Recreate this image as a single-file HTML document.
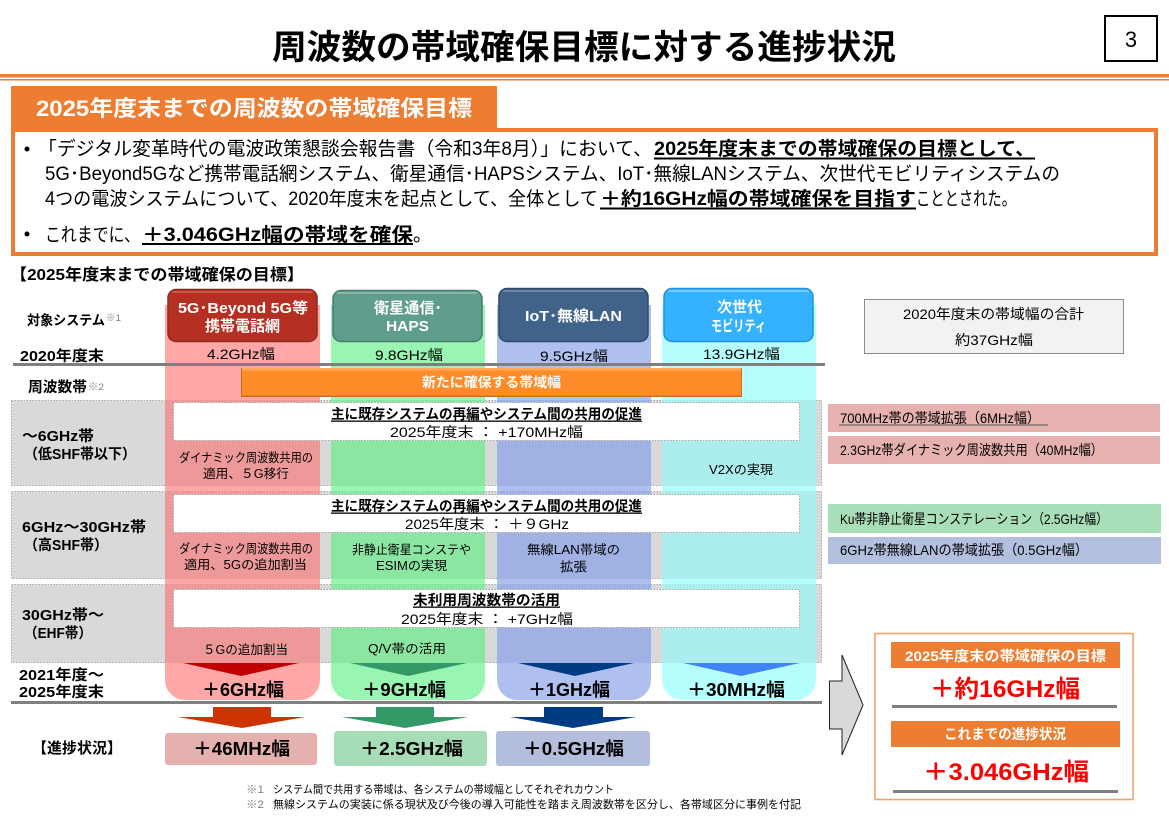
<!DOCTYPE html>
<html lang="ja"><head><meta charset="utf-8"><title>周波数の帯域確保目標に対する進捗状況</title>
<style>
html,body{margin:0;padding:0;background:#fff;width:1169px;height:827px;overflow:hidden}
svg{display:block}
text{font-family:"Liberation Sans","Noto Sans CJK JP",sans-serif;fill:#000;white-space:pre}
.b{font-weight:700}
.w{fill:#fff;font-weight:700}
.r{fill:#f00;font-weight:700}
</style></head><body>
<svg xmlns="http://www.w3.org/2000/svg" width="1169" height="827" viewBox="0 0 1169 827">
<rect width="1169" height="827" fill="#fff"/>
<!-- title -->
<text class="b" x="272" y="59" font-size="34" textLength="624" lengthAdjust="spacingAndGlyphs">周波数の帯域確保目標に対する進捗状況</text>
<rect x="1105" y="16" width="52" height="45" fill="#fff" stroke="#000" stroke-width="2"/>
<text x="1131" y="47" font-size="22" text-anchor="middle">3</text>
<rect x="0" y="74" width="1169" height="3.5" fill="#ED7D31"/>
<rect x="0" y="79" width="1169" height="1.5" fill="#ED7D31"/>
<!-- header -->
<rect x="11" y="86" width="486" height="44" fill="#ED7D31"/>
<rect x="13" y="130" width="1143" height="124" fill="#fff" stroke="#ED7D31" stroke-width="4"/>
<text class="w" x="36" y="116" font-size="22" textLength="436" lengthAdjust="spacingAndGlyphs">2025年度末までの周波数の帯域確保目標</text>
<circle cx="27" cy="149" r="2.500" fill="#000"/>
<circle cx="27" cy="234" r="2.500" fill="#000"/>
<text x="38" y="155" font-size="19" textLength="614" lengthAdjust="spacingAndGlyphs">「デジタル変革時代の電波政策懇談会報告書（令和3年8月）」において、</text>
<text class="b" x="654" y="155" font-size="19" textLength="381" lengthAdjust="spacingAndGlyphs">2025年度末までの帯域確保の目標として、</text>
<rect x="654" y="157.500" width="381" height="2" fill="#000"/>
<text x="45" y="180" font-size="19" textLength="1015" lengthAdjust="spacingAndGlyphs">5G･Beyond5Gなど携帯電話網システム、衛星通信･HAPSシステム、IoT･無線LANシステム、次世代モビリティシステムの</text>
<text x="45" y="205" font-size="19" textLength="553" lengthAdjust="spacingAndGlyphs">4つの電波システムについて、2020年度末を起点として、全体として</text>
<text class="b" x="600" y="205" font-size="19" textLength="316" lengthAdjust="spacingAndGlyphs">＋約16GHz幅の帯域確保を目指す</text>
<rect x="600" y="207.500" width="316" height="2" fill="#000"/>
<text x="916" y="205" font-size="19" textLength="100" lengthAdjust="spacingAndGlyphs">こととされた。</text>
<text x="45" y="241" font-size="19" textLength="95" lengthAdjust="spacingAndGlyphs">これまでに、</text>
<text class="b" x="142" y="241" font-size="19" textLength="271" lengthAdjust="spacingAndGlyphs">＋3.046GHz幅の帯域を確保</text>
<rect x="142" y="243" width="271" height="2" fill="#000"/>
<text x="413" y="241" font-size="19">。</text>
<text class="b" x="10" y="280" font-size="16" textLength="294" lengthAdjust="spacingAndGlyphs">【2025年度末までの帯域確保の目標】</text>

<!-- gray bands -->
<g fill="#D9D9D9" stroke="#A6A6A6" stroke-dasharray="1.500 1.500">
<rect x="11.500" y="400.500" width="810" height="85"/>
<rect x="11.500" y="491.500" width="810" height="87"/>
<rect x="11.500" y="584.500" width="810" height="78"/>
</g>
<!-- columns -->
<path d="M165 305H320V680a20 20 0 0 1-20 20H185a20 20 0 0 1-20-20Z" fill="#FFA6A6"/>
<path d="M331 305H485V680a20 20 0 0 1-20 20H351a20 20 0 0 1-20-20Z" fill="#99F5B2"/>
<path d="M497 305H651V680a20 20 0 0 1-20 20H517a20 20 0 0 1-20-20Z" fill="#AFBFF0"/>
<path d="M662 305H816V680a20 20 0 0 1-20 20H682a20 20 0 0 1-20-20Z" fill="#B7FFFF"/>
<g fill="#EE9999"><rect x="165" y="400" width="155" height="86"/><rect x="165" y="491" width="155" height="88"/><rect x="165" y="584" width="155" height="79"/></g>
<g fill="#8BE6A2"><rect x="331" y="400" width="154" height="86"/><rect x="331" y="491" width="154" height="88"/><rect x="331" y="584" width="154" height="79"/></g>
<g fill="#A0B1E3"><rect x="497" y="400" width="154" height="86"/><rect x="497" y="491" width="154" height="88"/><rect x="497" y="584" width="154" height="79"/></g>
<g fill="#ACEEEE"><rect x="662" y="400" width="154" height="86"/><rect x="662" y="491" width="154" height="88"/><rect x="662" y="584" width="154" height="79"/></g>

<!-- system buttons -->
<rect x="168" y="289.500" width="149" height="52" rx="8" fill="#B53022" stroke="#8E2A20" stroke-width="1.500"/>
<rect x="172" y="291" width="141" height="2" rx="1" fill="#C9584C"/>
<rect x="333" y="290.500" width="149" height="51" rx="8" fill="#5F9E8C" stroke="#487A6C" stroke-width="1.500"/>
<rect x="337" y="292" width="141" height="2" rx="1" fill="#86B6A8"/>
<rect x="499" y="288.500" width="149" height="53" rx="8" fill="#416389" stroke="#2F4A69" stroke-width="1.500"/>
<rect x="503" y="290" width="141" height="2" rx="1" fill="#6B88A8"/>
<rect x="664" y="288.500" width="149" height="53" rx="8" fill="#35B2FF" stroke="#2192D8" stroke-width="1.500"/>
<rect x="668" y="290" width="141" height="2" rx="1" fill="#73CBFF"/>
<text class="w" x="178" y="313" font-size="15" textLength="130" lengthAdjust="spacingAndGlyphs">5G･Beyond 5G等</text>
<text class="w" x="205" y="331" font-size="15" textLength="75" lengthAdjust="spacingAndGlyphs">携帯電話網</text>
<text class="w" x="374" y="313" font-size="15" textLength="68" lengthAdjust="spacingAndGlyphs">衛星通信･</text>
<text class="w" x="386" y="331" font-size="15" textLength="43" lengthAdjust="spacingAndGlyphs">HAPS</text>
<text class="w" x="525" y="321" font-size="15" textLength="97" lengthAdjust="spacingAndGlyphs">IoT･無線LAN</text>
<text class="w" x="717" y="312" font-size="15" textLength="45" lengthAdjust="spacingAndGlyphs">次世代</text>
<text class="w" x="711" y="331" font-size="15" textLength="55" lengthAdjust="spacingAndGlyphs">モビリティ</text>

<!-- left labels top -->
<text class="b" x="27" y="325" font-size="13.500" textLength="78" lengthAdjust="spacingAndGlyphs">対象システム</text>
<text x="106" y="321" font-size="9.500" textLength="15" lengthAdjust="spacingAndGlyphs" style="fill:#808080">※1</text>
<text class="b" x="20" y="361" font-size="14.500" textLength="84" lengthAdjust="spacingAndGlyphs">2020年度末</text>
<text x="207" y="359" font-size="14" textLength="68" lengthAdjust="spacingAndGlyphs">4.2GHz幅</text>
<text x="375" y="360" font-size="14" textLength="68" lengthAdjust="spacingAndGlyphs">9.8GHz幅</text>
<text x="540" y="361" font-size="14" textLength="68" lengthAdjust="spacingAndGlyphs">9.5GHz幅</text>
<text x="703" y="359" font-size="14" textLength="77" lengthAdjust="spacingAndGlyphs">13.9GHz幅</text>
<rect x="13" y="363" width="812" height="3" fill="#7F7F7F"/>
<text class="b" x="28" y="392" font-size="14.500" textLength="59" lengthAdjust="spacingAndGlyphs">周波数帯</text>
<text x="88" y="390" font-size="9.500" textLength="16" lengthAdjust="spacingAndGlyphs" style="fill:#808080">※2</text>

<!-- orange bar -->
<rect x="241" y="368" width="501" height="29" fill="#FF8C28"/>
<rect x="241" y="368" width="501" height="2.500" fill="#FFA959"/>
<rect x="241" y="395.500" width="501" height="1.500" fill="#C96F1E"/>
<rect x="241" y="368" width="1" height="29" fill="#C96F1E"/>
<rect x="741" y="368" width="1" height="29" fill="#C96F1E"/>
<text class="w" x="422" y="387" font-size="13.500" textLength="139" lengthAdjust="spacingAndGlyphs">新たに確保する帯域幅</text>

<!-- white boxes -->
<g fill="#fff" stroke="#A6A6A6" stroke-dasharray="1.500 1.500">
<rect x="173.500" y="402.500" width="626" height="38"/>
<rect x="173.500" y="494.500" width="626" height="38"/>
<rect x="173.500" y="589.500" width="626" height="38"/>
</g>
<text class="b" x="331" y="419" font-size="14" textLength="311" lengthAdjust="spacingAndGlyphs">主に既存システムの再編やシステム間の共用の促進</text>
<rect x="331" y="420.500" width="311" height="1.300" fill="#000"/>
<text x="390" y="437" font-size="14" textLength="193" lengthAdjust="spacingAndGlyphs">2025年度末 ： +170MHz幅</text>
<text class="b" x="331" y="511" font-size="14" textLength="311" lengthAdjust="spacingAndGlyphs">主に既存システムの再編やシステム間の共用の促進</text>
<rect x="331" y="512.500" width="311" height="1.300" fill="#000"/>
<text x="405" y="529" font-size="14" textLength="164" lengthAdjust="spacingAndGlyphs">2025年度末 ： ＋９GHz</text>
<text class="b" x="413" y="605" font-size="14" textLength="147" lengthAdjust="spacingAndGlyphs">未利用周波数帯の活用</text>
<rect x="413" y="606.500" width="147" height="1.300" fill="#000"/>
<text x="401" y="624" font-size="14" textLength="172" lengthAdjust="spacingAndGlyphs">2025年度末 ： +7GHz幅</text>

<!-- band labels -->
<text class="b" x="22" y="441" font-size="14.500" textLength="72" lengthAdjust="spacingAndGlyphs">～6GHz帯</text>
<text class="b" x="24" y="459" font-size="14.500" textLength="112" lengthAdjust="spacingAndGlyphs">（低SHF帯以下）</text>
<text class="b" x="22" y="532" font-size="14.500" textLength="124" lengthAdjust="spacingAndGlyphs">6GHz～30GHz帯</text>
<text class="b" x="24" y="550" font-size="14.500" textLength="84" lengthAdjust="spacingAndGlyphs">（高SHF帯）</text>
<text class="b" x="22" y="620" font-size="14.500" textLength="82" lengthAdjust="spacingAndGlyphs">30GHz帯～</text>
<text class="b" x="24" y="638" font-size="14.500" textLength="68" lengthAdjust="spacingAndGlyphs">（EHF帯）</text>

<!-- column notes -->
<g font-size="12.500">
<text x="179" y="462" textLength="134" lengthAdjust="spacingAndGlyphs">ダイナミック周波数共用の</text>
<text x="203" y="478" textLength="86" lengthAdjust="spacingAndGlyphs">適用、５G移行</text>
<text x="709" y="474" textLength="64" lengthAdjust="spacingAndGlyphs">V2Xの実現</text>
<text x="179" y="553" textLength="134" lengthAdjust="spacingAndGlyphs">ダイナミック周波数共用の</text>
<text x="184" y="569" textLength="123" lengthAdjust="spacingAndGlyphs">適用、5Gの追加割当</text>
<text x="352" y="554" textLength="119" lengthAdjust="spacingAndGlyphs">非静止衛星コンステや</text>
<text x="376" y="570" textLength="71" lengthAdjust="spacingAndGlyphs">ESIMの実現</text>
<text x="527" y="554" textLength="93" lengthAdjust="spacingAndGlyphs">無線LAN帯域の</text>
<text x="560" y="571" textLength="27" lengthAdjust="spacingAndGlyphs">拡張</text>
<text x="203" y="654" textLength="85" lengthAdjust="spacingAndGlyphs">５Gの追加割当</text>
<text x="368" y="653" textLength="78" lengthAdjust="spacingAndGlyphs">Q/V帯の活用</text>
</g>

<!-- triangles -->
<polygon points="183,663 299,663 241,676" fill="#C00000"/>
<polygon points="350,663 467,663 408,676" fill="#339966"/>
<polygon points="518,663 634,663 575,676" fill="#003C84"/>
<polygon points="683,663 800,663 741,676" fill="#3F83F5"/>

<!-- increments -->
<text class="b" x="19" y="680" font-size="14.500" textLength="85" lengthAdjust="spacingAndGlyphs">2021年度～</text>
<text class="b" x="19" y="697" font-size="14.500" textLength="85" lengthAdjust="spacingAndGlyphs">2025年度末</text>
<text class="b" x="202" y="696" font-size="18" textLength="82" lengthAdjust="spacingAndGlyphs">＋6GHz幅</text>
<text class="b" x="362" y="696" font-size="18" textLength="84" lengthAdjust="spacingAndGlyphs">＋9GHz幅</text>
<text class="b" x="528" y="696" font-size="18" textLength="82" lengthAdjust="spacingAndGlyphs">＋1GHz幅</text>
<text class="b" x="687" y="696" font-size="18" textLength="98" lengthAdjust="spacingAndGlyphs">＋30MHz幅</text>
<rect x="11" y="701" width="811" height="3" fill="#7F7F7F"/>

<!-- progress arrows -->
<polygon points="213,707 271,707 271,717 305,717 242,728 178,717 213,717" fill="#CC3300"/>
<polygon points="376,707 434,707 434,717 468,717 405,728 342,717 376,717" fill="#339966"/>
<polygon points="544,707 603,707 603,717 636,717 573,728 510,717 544,717" fill="#003C84"/>
<rect x="165" y="733" width="152" height="32" rx="3" fill="#E4B1AF"/>
<rect x="334" y="731" width="153" height="35" rx="3" fill="#A6DDB6"/>
<rect x="496" y="731" width="154" height="35" rx="3" fill="#B3BEDD"/>
<text class="b" x="193" y="755" font-size="18" textLength="97" lengthAdjust="spacingAndGlyphs">＋46MHz幅</text>
<text class="b" x="360" y="755" font-size="18" textLength="103" lengthAdjust="spacingAndGlyphs">＋2.5GHz幅</text>
<text class="b" x="523" y="755" font-size="18" textLength="101" lengthAdjust="spacingAndGlyphs">＋0.5GHz幅</text>
<text class="b" x="32" y="753" font-size="15" textLength="90" lengthAdjust="spacingAndGlyphs">【進捗状況】</text>

<!-- footnotes -->
<text x="246" y="793" font-size="11" style="fill:#808080" textLength="18" lengthAdjust="spacingAndGlyphs">※1</text>
<text x="273" y="793" font-size="11" textLength="341" lengthAdjust="spacingAndGlyphs">システム間で共用する帯域は、各システムの帯域幅としてそれぞれカウント</text>
<text x="246" y="808" font-size="11" style="fill:#808080" textLength="18" lengthAdjust="spacingAndGlyphs">※2</text>
<text x="273" y="808" font-size="11" textLength="528" lengthAdjust="spacingAndGlyphs">無線システムの実装に係る現状及び今後の導入可能性を踏まえ周波数帯を区分し、各帯域区分に事例を付記</text>

<!-- right total box -->
<rect x="864.500" y="299.500" width="259" height="54" fill="#F2F2F2" stroke="#8C8C8C" stroke-width="1"/>
<text x="903" y="319" font-size="14" textLength="181" lengthAdjust="spacingAndGlyphs">2020年度末の帯域幅の合計</text>
<text x="955" y="345" font-size="14" textLength="78" lengthAdjust="spacingAndGlyphs">約37GHz幅</text>

<!-- right rows -->
<rect x="828" y="404" width="332" height="28" fill="#E6B2B0"/>
<rect x="828" y="436" width="332" height="28" fill="#E6B2B0"/>
<rect x="828" y="504" width="333" height="29" fill="#A9DFB8"/>
<rect x="828" y="537" width="333" height="27" fill="#B3BFDE"/>
<text x="840" y="423" font-size="14" textLength="200" lengthAdjust="spacingAndGlyphs">700MHz帯の帯域拡張（6MHz幅）</text>
<rect x="839" y="424.500" width="209" height="1" fill="#555"/>
<text x="840" y="455" font-size="14" textLength="263" lengthAdjust="spacingAndGlyphs">2.3GHz帯ダイナミック周波数共用（40MHz幅）</text>
<text x="840" y="524" font-size="14" textLength="268" lengthAdjust="spacingAndGlyphs">Ku帯非静止衛星コンステレーション（2.5GHz幅）</text>
<text x="840" y="555" font-size="14" textLength="248" lengthAdjust="spacingAndGlyphs">6GHz帯無線LANの帯域拡張（0.5GHz幅）</text>

<!-- big arrow -->
<polygon points="829.500,681 842,681 842,655 863,705 842,755 842,729 829.500,729" fill="#D9D9D9" stroke="#222" stroke-width="1"/>

<!-- result box -->
<rect x="875" y="633.500" width="258" height="166" fill="#fff" stroke="#F4A26B" stroke-width="1.600"/>
<rect x="891" y="642" width="229" height="26" fill="#ED7D31"/>
<text class="w" x="905" y="661" font-size="14" textLength="201" lengthAdjust="spacingAndGlyphs">2025年度末の帯域確保の目標</text>
<text class="r" x="930" y="697" font-size="24" textLength="150" lengthAdjust="spacingAndGlyphs" style="fill:#f00">＋約16GHz幅</text>
<rect x="892" y="705" width="225" height="3" fill="#7F7F7F"/>
<rect x="891" y="721" width="229" height="26" fill="#ED7D31"/>
<text class="w" x="944" y="739" font-size="14" textLength="122" lengthAdjust="spacingAndGlyphs">これまでの進捗状況</text>
<text class="r" x="923" y="780" font-size="24" textLength="166" lengthAdjust="spacingAndGlyphs" style="fill:#f00">＋3.046GHz幅</text>
<rect x="893" y="790" width="225" height="3" fill="#7F7F7F"/>
</svg>
</body></html>
